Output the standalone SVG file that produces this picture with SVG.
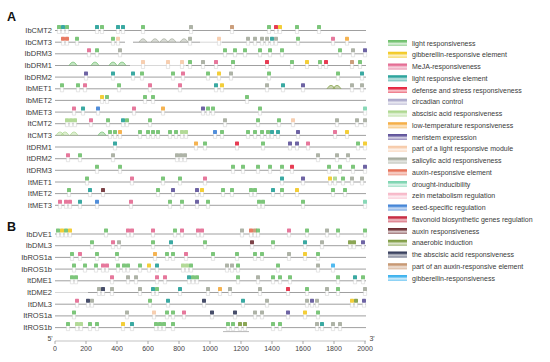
<svg xmlns="http://www.w3.org/2000/svg" xmlns:xlink="http://www.w3.org/1999/xlink" width="550" height="362" viewBox="0 0 550 362">
<style>
text{font-family:"Liberation Sans",Arial,sans-serif;fill:#3a3a3a}
.lab{font-size:7.5px;text-anchor:end}
.leg{font-size:7px}
.ax{font-size:7px;text-anchor:middle;fill:#444}
.pn{font-size:12.5px;font-weight:bold;fill:#111}
.tl{stroke:#959595;stroke-width:0.9;fill:none}
.tf{stroke:#d4d4d4;stroke-width:0.9;fill:none}
.lr{color:#6cbf69}.ge{color:#f2c81e}.mj{color:#e3668f}.le{color:#1f9e96}.ds{color:#e4223c}
.cc{color:#a9a6c9}.aa{color:#a9d68a}.lt{color:#f4a93a}.me{color:#5b4f98}.pl{color:#f6c9a7}
.sa{color:#a3a99b}.ar{color:#e5694e}.dr{color:#79d3ae}.ze{color:#f7b6c7}.ss{color:#3a7fd5}
.fl{color:#c41e37}.au{color:#6b2a2f}.an{color:#7c9a3e}.ab{color:#2e3656}.pa{color:#c4916a}.gr{color:#39b1ee}
.sw{fill:currentColor}
#tracks use{opacity:0.88}
</style>
<defs>
<g id="mk"><path d="M-1.6,-1.5v4.5h3.2v-4.5" fill="#fff" stroke="#c8c8c8" stroke-width="0.5"/><rect x="-2" y="-5.5" width="4" height="4" rx="0.6" fill="currentColor"/></g>
<g id="bp"><path d="M-4,0 Q0,-7 4,0" fill="currentColor" fill-opacity="0.45" stroke="currentColor" stroke-width="0.8"/></g>
<linearGradient id="sheen" x1="0" y1="0" x2="0" y2="1">
<stop offset="0" stop-color="#fff" stop-opacity="0"/>
<stop offset="0.3" stop-color="#fff" stop-opacity="0.1"/>
<stop offset="0.6" stop-color="#fff" stop-opacity="0.75"/>
<stop offset="1" stop-color="#fff" stop-opacity="0.35"/>
</linearGradient>
<g id="shn"><rect x="0" y="-3" width="19" height="6" fill="url(#sheen)"/></g>
</defs>

<text class="pn" x="7" y="21">A</text>
<text class="pn" x="7" y="231">B</text>

<g id="tracks">
<g id="IbCMT2" transform="translate(0,30.5)"><text class="lab" x="52" y="2.5">IbCMT2</text><line class="tl" x1="55" y1="0" x2="366" y2="0"/>
<use href="#mk" x="59" class="lr"/><use href="#mk" x="63" class="le"/><use href="#mk" x="67" class="lr"/><use href="#mk" x="97" class="le"/><use href="#mk" x="102" class="lr"/><use href="#mk" x="118" class="le"/><use href="#mk" x="123" class="le"/><use href="#mk" x="143" class="lr"/><use href="#mk" x="191" class="sa"/><use href="#mk" x="232" class="pa"/><use href="#mk" x="269" class="lr"/><use href="#mk" x="276" class="ds"/><use href="#mk" x="280" class="ge"/><use href="#mk" x="297" class="lr"/><use href="#mk" x="319" class="lr"/></g>

<g id="IbCMT3" transform="translate(0,42.2)"><text class="lab" x="52" y="2.5">IbCMT3</text><line class="tl" x1="55" y1="0" x2="125" y2="0"/><line class="tl" x1="133" y1="0" x2="200" y2="0"/><line class="tf" x1="200" y1="0" x2="222" y2="0"/><line class="tl" x1="222" y1="0" x2="366" y2="0"/>
<use href="#mk" x="63" class="ar"/><use href="#mk" x="67" class="ar"/><use href="#mk" x="77" class="lr"/><use href="#mk" x="113" class="lr"/><use href="#mk" x="118" class="pl"/>
<use href="#bp" x="143" class="sa"/><use href="#bp" x="155" class="sa"/><use href="#bp" x="164" class="sa"/><use href="#bp" x="172" class="sa"/><use href="#bp" x="184" class="sa"/><use href="#mk" x="190" class="sa"/><use href="#mk" x="219" class="pl"/>
<use href="#mk" x="248" class="sa"/><use href="#mk" x="255" class="sa"/><use href="#mk" x="262" class="sa"/><use href="#mk" x="267" class="sa"/><use href="#mk" x="272" class="le"/><use href="#mk" x="276" class="sa"/><use href="#mk" x="298" class="lr"/><use href="#mk" x="333" class="mj"/><use href="#mk" x="347" class="lt"/></g>

<g id="IbDRM3" transform="translate(0,53.8)"><text class="lab" x="52" y="2.5">IbDRM3</text><line class="tl" x1="55" y1="0" x2="366" y2="0"/>
<use href="#mk" x="89" class="mj"/><use href="#mk" x="97" class="lr"/><use href="#mk" x="120" class="sa"/><use href="#mk" x="225" class="lr"/><use href="#mk" x="235" class="lr"/><use href="#mk" x="245" class="lr"/><use href="#mk" x="260" class="lr"/><use href="#mk" x="270" class="lr"/><use href="#mk" x="282" class="lr"/><use href="#mk" x="340" class="lr"/><use href="#mk" x="353" class="sa"/><use href="#mk" x="365" class="me"/></g>

<g id="IbDRM1" transform="translate(0,65.5)"><text class="lab" x="52" y="2.5">IbDRM1</text><line class="tl" x1="55" y1="0" x2="130" y2="0"/><line class="tf" x1="130" y1="0" x2="186" y2="0"/><line class="tl" x1="186" y1="0" x2="366" y2="0"/>
<use href="#bp" x="73" class="lr"/><use href="#bp" x="95" class="lr"/><use href="#bp" x="113" class="lr"/><use href="#bp" x="122" class="lr"/><use href="#mk" x="143" class="pl"/><use href="#mk" x="168" class="pl"/><use href="#mk" x="182" class="pl"/><use href="#mk" x="190" class="lr"/><use href="#mk" x="203" class="sa"/><use href="#mk" x="216" class="mj"/><use href="#mk" x="233" class="lr"/><use href="#mk" x="267" class="ds"/><use href="#mk" x="292" class="lr"/><use href="#mk" x="307" class="ge"/><use href="#mk" x="320" class="lr"/><use href="#mk" x="326" class="ds"/><use href="#mk" x="352" class="pa"/><use href="#mk" x="360" class="lr"/></g>

<g id="IbDRM2" transform="translate(0,77.1)"><text class="lab" x="52" y="2.5">IbDRM2</text><line class="tl" x1="55" y1="0" x2="366" y2="0"/>
<use href="#mk" x="86" class="me"/><use href="#mk" x="113" class="le"/><use href="#mk" x="133" class="le"/><use href="#mk" x="142" class="lr"/><use href="#mk" x="173" class="lr"/><use href="#mk" x="183" class="mj"/><use href="#mk" x="208" class="lr"/><use href="#mk" x="219" class="ge"/><use href="#mk" x="231" class="sa"/><use href="#mk" x="269" class="lr"/><use href="#mk" x="338" class="lr"/><use href="#mk" x="362" class="le"/></g>

<g id="IbMET1" transform="translate(0,88.8)"><text class="lab" x="52" y="2.5">IbMET1</text><line class="tl" x1="55" y1="0" x2="366" y2="0"/>
<use href="#mk" x="62" class="lr"/><use href="#mk" x="78" class="lr"/><use href="#mk" x="85" class="mj"/><use href="#mk" x="119" class="lr"/><use href="#mk" x="150" class="mj"/><use href="#mk" x="180" class="mj"/><use href="#mk" x="216" class="le"/><use href="#mk" x="222" class="ge"/><use href="#mk" x="267" class="sa"/><use href="#mk" x="283" class="le"/><use href="#mk" x="303" class="me"/><use href="#bp" x="331" class="an"/><use href="#bp" x="337" class="an"/><use href="#mk" x="352" class="sa"/><use href="#mk" x="362" class="sa"/></g>

<g id="IbMET2" transform="translate(0,100.4)"><text class="lab" x="52" y="2.5">IbMET2</text><line class="tl" x1="55" y1="0" x2="366" y2="0"/>
<use href="#mk" x="102" class="ge"/><use href="#mk" x="107" class="lr"/><use href="#mk" x="145" class="lr"/><use href="#mk" x="153" class="lr"/><use href="#mk" x="247" class="lr"/></g>

<g id="IbMET3" transform="translate(0,112.1)"><text class="lab" x="52" y="2.5">IbMET3</text><line class="tl" x1="55" y1="0" x2="366" y2="0"/>
<use href="#mk" x="74" class="mj"/><use href="#mk" x="83" class="le"/><use href="#mk" x="98" class="ss"/><use href="#mk" x="134" class="mj"/><use href="#mk" x="163" class="lt"/><use href="#mk" x="203" class="me"/><use href="#mk" x="208" class="lr"/><use href="#mk" x="213" class="lr"/><use href="#mk" x="260" class="lr"/><use href="#mk" x="365" class="dr"/></g>

<g id="ItCMT2" transform="translate(0,123.7)"><text class="lab" x="52" y="2.5">ItCMT2</text><line class="tl" x1="55" y1="0" x2="366" y2="0"/>
<use href="#mk" x="67" class="aa"/><use href="#mk" x="71" class="aa"/><use href="#mk" x="75" class="aa"/><use href="#mk" x="91" class="mj"/><use href="#mk" x="108" class="lr"/><use href="#mk" x="123" class="le"/><use href="#mk" x="127" class="lr"/><use href="#mk" x="150" class="lr"/><use href="#mk" x="225" class="sa"/><use href="#mk" x="258" class="lr"/><use href="#mk" x="279" class="lr"/><use href="#mk" x="293" class="pl"/><use href="#mk" x="337" class="sa"/><use href="#mk" x="357" class="sa"/><use href="#mk" x="365" class="sa"/></g>

<g id="ItCMT3" transform="translate(0,135.4)"><text class="lab" x="52" y="2.5">ItCMT3</text><line class="tl" x1="55" y1="0" x2="366" y2="0"/>
<use href="#bp" x="60" class="aa"/><use href="#bp" x="65" class="aa"/><use href="#bp" x="74" class="aa"/><use href="#bp" x="102" class="lr"/><use href="#mk" x="110" class="lr"/><use href="#mk" x="115" class="lr"/><use href="#mk" x="120" class="lt"/><use href="#mk" x="140" class="lr"/><use href="#mk" x="148" class="lr"/><use href="#mk" x="153" class="lr"/><use href="#mk" x="158" class="lr"/><use href="#mk" x="170" class="lr"/><use href="#mk" x="176" class="lr"/><use href="#mk" x="182" class="aa"/><use href="#mk" x="186" class="aa"/>
<use href="#mk" x="215" class="ss"/><use href="#mk" x="222" class="lr"/><use href="#mk" x="248" class="lr"/><use href="#mk" x="255" class="lr"/><use href="#mk" x="262" class="lr"/><use href="#mk" x="268" class="lr"/><use href="#mk" x="272" class="le"/><use href="#mk" x="278" class="le"/><use href="#mk" x="298" class="me"/><use href="#mk" x="335" class="mj"/><use href="#mk" x="347" class="ge"/></g>

<g id="ItDRM1" transform="translate(0,147)"><text class="lab" x="52" y="2.5">ItDRM1</text><line class="tl" x1="55" y1="0" x2="366" y2="0"/>
<use href="#mk" x="115" class="le"/><use href="#mk" x="196" class="lt"/><use href="#mk" x="205" class="lr"/><use href="#mk" x="237" class="ds"/><use href="#mk" x="263" class="lr"/><use href="#mk" x="290" class="me"/><use href="#mk" x="297" class="me"/><use href="#mk" x="308" class="mj"/><use href="#mk" x="358" class="lr"/><use href="#mk" x="365" class="ge"/></g>

<g id="ItDRM2" transform="translate(0,158.7)"><text class="lab" x="52" y="2.5">ItDRM2</text><line class="tl" x1="55" y1="0" x2="366" y2="0"/>
<use href="#mk" x="68" class="mj"/><use href="#mk" x="80" class="lr"/><use href="#mk" x="113" class="sa"/><use href="#mk" x="177" class="sa"/><use href="#mk" x="181" class="sa"/><use href="#mk" x="185" class="sa"/><use href="#mk" x="318" class="sa"/><use href="#mk" x="337" class="sa"/><use href="#mk" x="348" class="sa"/></g>

<g id="ItDRM3" transform="translate(0,170.3)"><text class="lab" x="52" y="2.5">ItDRM3</text><line class="tl" x1="55" y1="0" x2="366" y2="0"/>
<use href="#mk" x="97" class="lr"/><use href="#mk" x="120" class="lr"/><use href="#mk" x="233" class="lr"/><use href="#mk" x="243" class="lr"/><use href="#mk" x="258" class="lr"/><use href="#mk" x="270" class="lr"/><use href="#mk" x="282" class="lr"/><use href="#mk" x="292" class="ds"/><use href="#mk" x="329" class="lr"/><use href="#mk" x="340" class="lr"/><use href="#mk" x="353" class="lr"/><use href="#mk" x="365" class="me"/></g>

<g id="ItMET1" transform="translate(0,182)"><text class="lab" x="52" y="2.5">ItMET1</text><line class="tl" x1="55" y1="0" x2="366" y2="0"/>
<use href="#mk" x="87" class="lr"/><use href="#mk" x="132" class="mj"/><use href="#mk" x="163" class="lr"/><use href="#mk" x="180" class="lr"/><use href="#mk" x="205" class="mj"/><use href="#mk" x="282" class="le"/><use href="#mk" x="303" class="me"/><use href="#mk" x="330" class="ge"/><use href="#mk" x="335" class="aa"/><use href="#mk" x="343" class="lr"/><use href="#mk" x="352" class="sa"/><use href="#mk" x="362" class="sa"/></g>

<g id="ItMET2" transform="translate(0,193.6)"><text class="lab" x="52" y="2.5">ItMET2</text><line class="tl" x1="55" y1="0" x2="366" y2="0"/>
<use href="#mk" x="69" class="lr"/><use href="#mk" x="90" class="le"/><use href="#mk" x="103" class="au"/><use href="#mk" x="158" class="lr"/><use href="#mk" x="173" class="me"/><use href="#mk" x="197" class="me"/><use href="#mk" x="202" class="ge"/><use href="#mk" x="223" class="lr"/><use href="#mk" x="232" class="lr"/><use href="#mk" x="251" class="lr"/><use href="#mk" x="255" class="lr"/><use href="#mk" x="273" class="le"/><use href="#mk" x="282" class="lr"/><use href="#mk" x="297" class="ge"/><use href="#mk" x="333" class="lr"/><use href="#mk" x="345" class="lr"/></g>

<g id="ItMET3" transform="translate(0,205.3)"><text class="lab" x="52" y="2.5">ItMET3</text><line class="tl" x1="55" y1="0" x2="366" y2="0"/>
<use href="#mk" x="60" class="mj"/><use href="#mk" x="66" class="mj"/><use href="#mk" x="70" class="mj"/><use href="#mk" x="80" class="le"/><use href="#mk" x="97" class="ss"/><use href="#mk" x="131" class="mj"/><use href="#mk" x="170" class="lr"/><use href="#mk" x="182" class="lr"/><use href="#mk" x="197" class="me"/><use href="#mk" x="208" class="lr"/><use href="#mk" x="259" class="lr"/><use href="#mk" x="263" class="lr"/><use href="#mk" x="303" class="lr"/><use href="#mk" x="365" class="dr"/></g>

<g id="IbDVE1" transform="translate(0,234)"><text class="lab" x="52" y="2.5">IbDVE1</text><line class="tl" x1="55" y1="0" x2="366" y2="0"/>
<use href="#mk" x="58" class="lr"/><use href="#mk" x="62" class="ge"/><use href="#mk" x="66" class="lr"/><use href="#mk" x="70" class="ge"/><use href="#mk" x="106" class="lr"/><use href="#mk" x="128" class="mj"/><use href="#mk" x="132" class="mj"/><use href="#mk" x="153" class="mj"/><use href="#mk" x="175" class="lr"/><use href="#mk" x="182" class="mj"/><use href="#mk" x="198" class="mj"/><use href="#mk" x="202" class="mj"/><use href="#mk" x="242" class="sa"/><use href="#mk" x="251" class="ar"/><use href="#mk" x="255" class="pa"/><use href="#mk" x="258" class="lr"/><use href="#mk" x="289" class="mj"/><use href="#mk" x="307" class="lr"/><use href="#mk" x="327" class="sa"/><use href="#mk" x="338" class="lr"/><use href="#mk" x="365" class="lr"/></g>

<g id="IbDML3" transform="translate(0,245.7)"><text class="lab" x="52" y="2.5">IbDML3</text><line class="tl" x1="55" y1="0" x2="366" y2="0"/>
<use href="#mk" x="92" class="lr"/><use href="#mk" x="113" class="mj"/><use href="#mk" x="119" class="sa"/><use href="#mk" x="153" class="lr"/><use href="#mk" x="171" class="le"/><use href="#mk" x="205" class="lr"/><use href="#mk" x="252" class="au"/><use href="#mk" x="273" class="lr"/><use href="#mk" x="305" class="le"/><use href="#mk" x="322" class="sa"/><use href="#mk" x="350" class="an"/><use href="#mk" x="354" class="an"/><use href="#mk" x="363" class="me"/></g>

<g id="IbROS1a" transform="translate(0,257.4)"><text class="lab" x="52" y="2.5">IbROS1a</text><line class="tl" x1="55" y1="0" x2="366" y2="0"/>
<use href="#mk" x="72" class="lr"/><use href="#mk" x="80" class="mj"/><use href="#mk" x="97" class="lr"/><use href="#mk" x="117" class="lr"/><use href="#mk" x="155" class="lt"/><use href="#mk" x="167" class="lr"/><use href="#mk" x="173" class="lr"/><use href="#mk" x="186" class="mj"/><use href="#mk" x="213" class="lr"/><use href="#mk" x="237" class="lr"/><use href="#mk" x="255" class="lr"/><use href="#mk" x="262" class="lr"/><use href="#mk" x="289" class="sa"/><use href="#mk" x="305" class="ge"/><use href="#mk" x="318" class="lr"/></g>

<g id="IbROS1b" transform="translate(0,269.1)"><text class="lab" x="52" y="2.5">IbROS1b</text><line class="tl" x1="55" y1="0" x2="366" y2="0"/>
<use href="#mk" x="74" class="lr"/><use href="#mk" x="85" class="lr"/><use href="#mk" x="96" class="lr"/><use href="#mk" x="103" class="mj"/><use href="#mk" x="107" class="mj"/><use href="#mk" x="118" class="lr"/><use href="#mk" x="124" class="lr"/><use href="#mk" x="128" class="lr"/><use href="#mk" x="140" class="lr"/><use href="#mk" x="149" class="ge"/><use href="#mk" x="157" class="le"/><use href="#mk" x="183" class="aa"/><use href="#mk" x="187" class="aa"/><use href="#mk" x="191" class="lr"/><use href="#mk" x="227" class="sa"/><use href="#mk" x="232" class="sa"/><use href="#mk" x="238" class="lr"/><use href="#mk" x="278" class="lr"/><use href="#mk" x="318" class="sa"/><use href="#mk" x="333" class="gr"/></g>

<g id="ItDME1" transform="translate(0,280.8)"><text class="lab" x="52" y="2.5">ItDME1</text><line class="tl" x1="55" y1="0" x2="366" y2="0"/>
<use href="#mk" x="72" class="lr"/><use href="#mk" x="76" class="lr"/><use href="#mk" x="112" class="mj"/><use href="#mk" x="128" class="sa"/><use href="#mk" x="136" class="sa"/><use href="#mk" x="157" class="mj"/><use href="#mk" x="165" class="mj"/><use href="#mk" x="189" class="le"/><use href="#mk" x="193" class="lr"/><use href="#mk" x="197" class="lr"/><use href="#mk" x="238" class="lr"/><use href="#mk" x="258" class="sa"/><use href="#mk" x="273" class="lr"/><use href="#mk" x="280" class="lr"/><use href="#mk" x="290" class="lr"/><use href="#mk" x="338" class="lr"/><use href="#mk" x="355" class="le"/><use href="#mk" x="363" class="lr"/></g>

<g id="ItDME2" transform="translate(0,292.5)"><text class="lab" x="52" y="2.5">ItDME2</text><line class="tf" x1="55" y1="0" x2="88" y2="0"/><line class="tl" x1="88" y1="0" x2="366" y2="0"/>
<use href="#mk" x="99" class="sa"/><use href="#mk" x="103" class="ab"/><use href="#mk" x="112" class="sa"/><use href="#mk" x="140" class="sa"/><use href="#mk" x="153" class="le"/><use href="#mk" x="157" class="lr"/><use href="#mk" x="180" class="le"/><use href="#mk" x="208" class="sa"/><use href="#mk" x="220" class="lt"/><use href="#mk" x="230" class="sa"/><use href="#mk" x="260" class="sa"/><use href="#mk" x="288" class="ds"/><use href="#mk" x="307" class="lr"/><use href="#mk" x="327" class="sa"/><use href="#mk" x="338" class="lr"/><use href="#mk" x="365" class="sa"/></g>

<g id="ItDML3" transform="translate(0,304.2)"><text class="lab" x="52" y="2.5">ItDML3</text><line class="tl" x1="55" y1="0" x2="366" y2="0"/>
<use href="#mk" x="77" class="mj"/><use href="#mk" x="88" class="ab"/><use href="#mk" x="92" class="sa"/><use href="#mk" x="150" class="lr"/><use href="#mk" x="168" class="le"/><use href="#mk" x="204" class="ab"/><use href="#mk" x="243" class="le"/><use href="#mk" x="267" class="sa"/><use href="#mk" x="307" class="sa"/><use href="#mk" x="312" class="me"/><use href="#mk" x="317" class="sa"/><use href="#mk" x="352" class="ge"/><use href="#mk" x="356" class="an"/><use href="#mk" x="364" class="me"/></g>

<g id="ItROS1a" transform="translate(0,315.9)"><text class="lab" x="52" y="2.5">ItROS1a</text><line class="tl" x1="55" y1="0" x2="366" y2="0"/>
<use href="#mk" x="74" class="lr"/><use href="#mk" x="127" class="sa"/><use href="#mk" x="154" class="pl"/><use href="#mk" x="167" class="lr"/><use href="#mk" x="173" class="lr"/><use href="#mk" x="184" class="mj"/><use href="#mk" x="212" class="ab"/><use href="#mk" x="235" class="ab"/><use href="#mk" x="255" class="sa"/><use href="#mk" x="262" class="sa"/><use href="#mk" x="288" class="me"/><use href="#mk" x="305" class="ge"/><use href="#mk" x="318" class="lr"/></g>

<g id="ItROS1b" transform="translate(0,327.6)"><text class="lab" x="52" y="2.5">ItROS1b</text><line class="tl" x1="55" y1="0" x2="366" y2="0"/><line class="tl" x1="223" y1="4" x2="249" y2="4" style="stroke:#b0b0b0"/>
<use href="#mk" x="68" class="lr"/><use href="#mk" x="77" class="aa"/><use href="#mk" x="81" class="aa"/><use href="#mk" x="90" class="lr"/><use href="#mk" x="97" class="lr"/><use href="#mk" x="123" class="ge"/><use href="#mk" x="132" class="le"/><use href="#mk" x="156" class="lr"/><use href="#mk" x="160" class="lr"/><use href="#mk" x="164" class="lr"/><use href="#mk" x="173" class="lr"/><use href="#mk" x="228" class="lr"/><use href="#mk" x="233" class="lr"/><use href="#mk" x="240" class="an"/><use href="#mk" x="245" class="an"/><use href="#mk" x="273" class="lr"/><use href="#mk" x="280" class="lr"/><use href="#mk" x="317" class="sa"/><use href="#mk" x="322" class="le"/><use href="#mk" x="333" class="sa"/><use href="#mk" x="340" class="sa"/></g>
</g>

<g id="axis">
<line x1="55" y1="341" x2="366" y2="341" stroke="#aaa" stroke-width="0.7"/>
<g stroke="#888" stroke-width="0.7">
<line x1="55" y1="341" x2="55" y2="344"/><line x1="86" y1="341" x2="86" y2="344"/><line x1="117" y1="341" x2="117" y2="344"/><line x1="148" y1="341" x2="148" y2="344"/><line x1="179" y1="341" x2="179" y2="344"/><line x1="210" y1="341" x2="210" y2="344"/><line x1="241" y1="341" x2="241" y2="344"/><line x1="272" y1="341" x2="272" y2="344"/><line x1="303" y1="341" x2="303" y2="344"/><line x1="334" y1="341" x2="334" y2="344"/><line x1="365" y1="341" x2="365" y2="344"/>
</g>
<text class="ax" x="55" y="351">0</text><text class="ax" x="86" y="351">200</text><text class="ax" x="117" y="351">400</text><text class="ax" x="148" y="351">600</text><text class="ax" x="179" y="351">800</text><text class="ax" x="210" y="351">1000</text><text class="ax" x="241" y="351">1200</text><text class="ax" x="272" y="351">1400</text><text class="ax" x="303" y="351">1600</text><text class="ax" x="334" y="351">1800</text><text class="ax" x="365" y="351">2000</text>
<text class="ax" x="50" y="341">5'</text><text class="ax" x="372" y="341">3'</text>
</g>

<g id="legend">
<g transform="translate(388,43)" class="lr"><rect class="sw" y="-3" width="19" height="6"/><use href="#shn"/><text class="leg" x="24" y="2.5">light responsiveness</text></g>
<g transform="translate(388,54.75)" class="ge"><rect class="sw" y="-3" width="19" height="6"/><use href="#shn"/><text class="leg" x="24" y="2.5">gibberellin-responsive element</text></g>
<g transform="translate(388,66.5)" class="mj"><rect class="sw" y="-3" width="19" height="6"/><use href="#shn"/><text class="leg" x="24" y="2.5">MeJA-responsiveness</text></g>
<g transform="translate(388,78.25)" class="le"><rect class="sw" y="-3" width="19" height="6"/><use href="#shn"/><text class="leg" x="24" y="2.5">light responsive element</text></g>
<g transform="translate(388,90)" class="ds"><rect class="sw" y="-3" width="19" height="6"/><use href="#shn"/><text class="leg" x="24" y="2.5">defense and stress responsiveness</text></g>
<g transform="translate(388,101.75)" class="cc"><rect class="sw" y="-3" width="19" height="6"/><use href="#shn"/><text class="leg" x="24" y="2.5">circadian control</text></g>
<g transform="translate(388,113.5)" class="aa"><rect class="sw" y="-3" width="19" height="6"/><use href="#shn"/><text class="leg" x="24" y="2.5">abscisic acid responsiveness</text></g>
<g transform="translate(388,125.25)" class="lt"><rect class="sw" y="-3" width="19" height="6"/><use href="#shn"/><text class="leg" x="24" y="2.5">low-temperature responsiveness</text></g>
<g transform="translate(388,137)" class="me"><rect class="sw" y="-3" width="19" height="6"/><use href="#shn"/><text class="leg" x="24" y="2.5">meristem expression</text></g>
<g transform="translate(388,148.75)" class="pl"><rect class="sw" y="-3" width="19" height="6"/><use href="#shn"/><text class="leg" x="24" y="2.5">part of a light responsive module</text></g>
<g transform="translate(388,160.5)" class="sa"><rect class="sw" y="-3" width="19" height="6"/><use href="#shn"/><text class="leg" x="24" y="2.5">salicylic acid responsiveness</text></g>
<g transform="translate(388,172.25)" class="ar"><rect class="sw" y="-3" width="19" height="6"/><use href="#shn"/><text class="leg" x="24" y="2.5">auxin-responsive element</text></g>
<g transform="translate(388,184)" class="dr"><rect class="sw" y="-3" width="19" height="6"/><use href="#shn"/><text class="leg" x="24" y="2.5">drought-inducibility</text></g>
<g transform="translate(388,195.75)" class="ze"><rect class="sw" y="-3" width="19" height="6"/><use href="#shn"/><text class="leg" x="24" y="2.5">zein metabolism regulation</text></g>
<g transform="translate(388,207.5)" class="ss"><rect class="sw" y="-3" width="19" height="6"/><use href="#shn"/><text class="leg" x="24" y="2.5">seed-specific regulation</text></g>
<g transform="translate(388,219.25)" class="fl"><rect class="sw" y="-3" width="19" height="6"/><use href="#shn"/><text class="leg" x="24" y="2.5">flavonoid biosynthetic genes regulation</text></g>
<g transform="translate(388,231)" class="au"><rect class="sw" y="-3" width="19" height="6"/><use href="#shn"/><text class="leg" x="24" y="2.5">auxin responsiveness</text></g>
<g transform="translate(388,242.75)" class="an"><rect class="sw" y="-3" width="19" height="6"/><use href="#shn"/><text class="leg" x="24" y="2.5">anaerobic induction</text></g>
<g transform="translate(388,254.5)" class="ab"><rect class="sw" y="-3" width="19" height="6"/><use href="#shn"/><text class="leg" x="24" y="2.5">the abscisic acid responsiveness</text></g>
<g transform="translate(388,266.25)" class="pa"><rect class="sw" y="-3" width="19" height="6"/><use href="#shn"/><text class="leg" x="24" y="2.5">part of an auxin-responsive element</text></g>
<g transform="translate(388,278)" class="gr"><rect class="sw" y="-3" width="19" height="6"/><use href="#shn"/><text class="leg" x="24" y="2.5">gibberellin-responsiveness</text></g>
</g>
</svg>
